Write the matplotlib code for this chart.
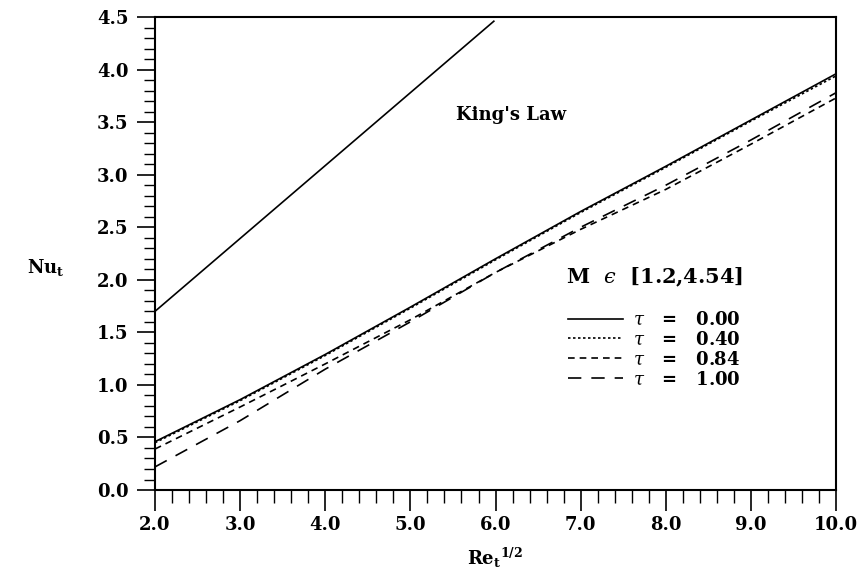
import matplotlib
matplotlib.use("Agg")
import matplotlib.pyplot as plt
from matplotlib.ticker import MultipleLocator, FormatStrFormatter

plt.rcParams['font.family'] = ['DejaVu Serif']
plt.rcParams['mathtext.fontset'] = 'dejavuserif'

# Data
sqrt_re = [2.0, 3.0, 4.0, 5.0, 6.0, 7.0, 8.0, 9.0, 10.0]
nu_tau000 = [0.46, 0.86, 1.29, 1.74, 2.20, 2.65, 3.08, 3.52, 3.96]
nu_tau040 = [0.45, 0.85, 1.28, 1.73, 2.19, 2.64, 3.07, 3.51, 3.94]
nu_tau084 = [0.39, 0.79, 1.20, 1.62, 2.07, 2.48, 2.86, 3.29, 3.73]
nu_tau100 = [0.22, 0.66, 1.15, 1.60, 2.07, 2.50, 2.90, 3.33, 3.78]
kings_x = [2.0, 5.98]
kings_y = [1.70, 4.46]
tau_labels = ["0.00", "0.40", "0.84", "1.00"]

fig = plt.figure(figsize=(8.67, 5.81), dpi=100)
ax = fig.add_axes([0.1788, 0.1566, 0.7855, 0.8141])

ax.plot(kings_x, kings_y, color='black', lw=1.2)
styles = ['-', (0, (1.5, 1.5)), (0, (4, 3)), (0, (8, 6))]
series = [nu_tau000, nu_tau040, nu_tau084, nu_tau100]
handles = []
for s, ls, lab in zip(series, styles, tau_labels):
    h, = ax.plot(sqrt_re, s, color='black', lw=1.2, linestyle=ls,
                 label=r"$\tau$   =   " + lab)
    handles.append(h)

ax.set_xlim(2.0, 10.0)
ax.set_ylim(0.0, 4.5)
ax.xaxis.set_major_locator(MultipleLocator(1.0))
ax.xaxis.set_minor_locator(MultipleLocator(0.2))
ax.yaxis.set_major_locator(MultipleLocator(0.5))
ax.yaxis.set_minor_locator(MultipleLocator(0.1))
ax.xaxis.set_major_formatter(FormatStrFormatter('%.1f'))
ax.yaxis.set_major_formatter(FormatStrFormatter('%.1f'))
ax.tick_params(axis='x', which='major', direction='out', length=15, width=1.2,
               labelsize=13, pad=4)
ax.tick_params(axis='x', which='minor', direction='out', length=9, width=1.0)
ax.tick_params(axis='y', which='major', direction='out', length=13, width=1.2,
               labelsize=13, pad=6)
ax.tick_params(axis='y', which='minor', direction='out', length=8, width=1.0)
for lbl in ax.get_xticklabels() + ax.get_yticklabels():
    lbl.set_fontweight('bold')
for sp in ax.spines.values():
    sp.set_linewidth(1.5)

ax.set_xlabel(r"Re$_\mathregular{t}$$^{\mathregular{1/2}}$", fontsize=13,
              fontweight='bold', labelpad=8)
ax.set_ylabel(r"Nu$_\mathregular{t}$", fontsize=13, fontweight='bold',
              rotation=0, labelpad=30, va='center')
ax.yaxis.set_label_coords(-0.16, 0.47)

ax.text(5.53, 3.57, "King's Law", fontsize=13, fontweight='bold',
        ha='left', va='center')

leg = ax.legend(handles=handles, loc='upper left',
                bbox_to_anchor=(0.59, 0.494), frameon=False,
                title="M  $\u03f5$  [1.2,4.54]",
                prop={'size': 13, 'weight': 'bold'},
                title_fontproperties={'size': 15, 'weight': 'bold'},
                handlelength=3.0, handletextpad=0.55, labelspacing=0.1,
                borderpad=0)
leg._legend_box.sep = 16

fig.savefig("out.png", dpi=100)
